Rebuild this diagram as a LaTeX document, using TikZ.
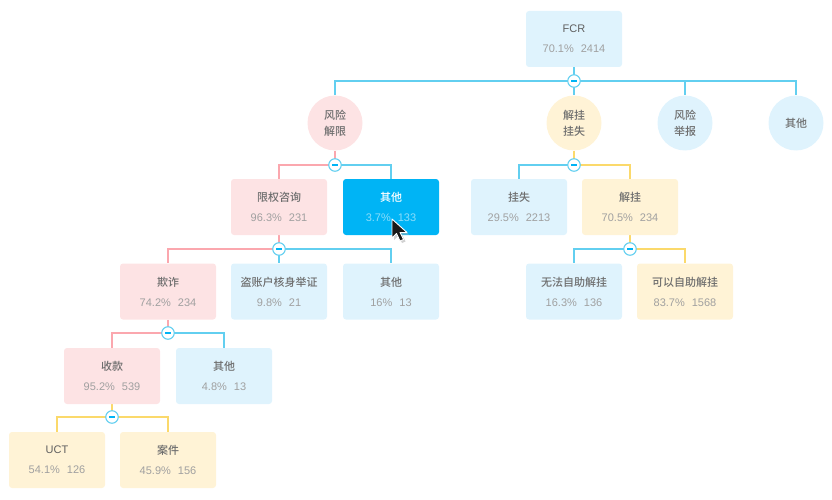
\documentclass[tikz,border=0pt]{standalone}
\usepackage{fontspec}
\setmainfont{Liberation Sans}
\newfontfamily\cjk[UprightFont={* Medium}]{Noto Sans CJK SC}
\usetikzlibrary{backgrounds}
\definecolor{bfill}{HTML}{DFF3FD}
\definecolor{pfill}{HTML}{FDE3E4}
\definecolor{yfill}{HTML}{FFF3D6}
\definecolor{afill}{HTML}{00B4F5}
\definecolor{bline}{HTML}{62CFF0}
\definecolor{pline}{HTML}{FBA7AE}
\definecolor{yline}{HTML}{FBD96B}
\definecolor{ttl}{HTML}{6E6E6E}
\definecolor{val}{HTML}{A0A0A0}
\newcommand{\ttlc}[1]{{\cjk\color{ttl}#1}}
\newcommand{\ttll}[1]{{\color{ttl!110}#1}}
\newcommand{\vals}[2]{{\color{val}#1\hspace{7pt}#2}}
\tikzset{
  x=1pt,y=-1pt,
  card/.style={minimum width=96pt,minimum height=56pt,rounded corners=3pt,inner sep=0pt,align=center,font=\fontsize{11}{20}\selectfont},
  bcard/.style={card,fill=bfill},
  pcard/.style={card,fill=pfill},
  ycard/.style={card,fill=yfill},
  acard/.style={card,fill=afill},
  disc/.style={circle,minimum size=55pt,inner sep=0pt,align=center,text=ttl,font=\cjk\fontsize{11}{16}\selectfont},
  bdisc/.style={disc,fill=bfill},
  pdisc/.style={disc,fill=pfill},
  ydisc/.style={disc,fill=yfill},
  junct/.style={circle,draw=bline,fill=white,line width=1.1pt,minimum size=12.5pt,inner sep=0pt,
    path picture={\draw[afill,line width=1.6pt] (path picture bounding box.center) ++(-3,0) -- ++(6,0);}},
  bl/.style={draw=bline,line width=1.1pt},
  pl/.style={draw=pline,line width=1.1pt},
  yl/.style={draw=yline,line width=1.1pt},
}
\begin{document}
\begin{tikzpicture}
\useasboundingbox (0,0) rectangle (832,500);
% junctions
\node[junct] (j1) at (574,81) {};
\node[junct] (j2) at (335,165) {};
\node[junct] (j3) at (574,165) {};
\node[junct] (j4) at (279,249) {};
\node[junct] (j5) at (630,249) {};
\node[junct] (j6) at (168,333) {};
\node[junct] (j7) at (112,417) {};
% top
\node[bcard] (fcr) at (574,39) {\ttll{FCR}\\\vals{70.1\%}{2414}};
\node[pdisc] (d1) at (335,123) {风险\\解限};
\node[ydisc] (d2) at (574,123) {解挂\\挂失};
\node[bdisc] (d3) at (685,123) {风险\\举报};
\node[bdisc] (d4) at (796,123) {其他};
% level 2
\node[pcard] (a1) at (279,207) {\ttlc{限权咨询}\\\vals{96.3\%}{231}};
\node[acard] (a2) at (391,207) {{\cjk\color{white}其他}\\{\color{white!55!afill}3.7\%\hspace{7pt}133}};
\node[bcard] (a3) at (519,207) {\ttlc{挂失}\\\vals{29.5\%}{2213}};
\node[ycard] (a4) at (630,207) {\ttlc{解挂}\\\vals{70.5\%}{234}};
% level 3
\node[pcard] (b1) at (168,291.5) {\ttlc{欺诈}\\\vals{74.2\%}{234}};
\node[bcard] (b2) at (279,291.5) {\ttlc{盗账户核身举证}\\\vals{9.8\%}{21}};
\node[bcard] (b3) at (391,291.5) {\ttlc{其他}\\\vals{16\%}{13}};
\node[bcard] (b4) at (574,291.5) {\ttlc{无法自助解挂}\\\vals{16.3\%}{136}};
\node[ycard] (b5) at (685,291.5) {\ttlc{可以自助解挂}\\\vals{83.7\%}{1568}};
% level 4
\node[pcard] (c1) at (112,376) {\ttlc{收款}\\\vals{95.2\%}{539}};
\node[bcard] (c2) at (224,376) {\ttlc{其他}\\\vals{4.8\%}{13}};
% level 5
\node[ycard] (e1) at (57,460) {\ttll{UCT}\\\vals{54.1\%}{126}};
\node[ycard] (e2) at (168,460) {\ttlc{案件}\\\vals{45.9\%}{156}};
% cursor
\fill[black!30,opacity=.6] (394,221) -- (394,240) -- (398.5,235.5) -- (402,243) -- (405.5,241.5) -- (402,234.5) -- (409,234.5) -- cycle;
\draw[white,line width=.9pt,fill=black!90,line join=round] (392,219) -- (392,238) -- (396.5,233.5) -- (400,241) -- (403.5,239.5) -- (400,232.5) -- (407,232.5) -- cycle;
% connectors
\begin{scope}[on background layer]
\draw[bl] (fcr.south) -- (j1.center);
\draw[bl] (j1.center) -| (d1.north);
\draw[bl] (j1.center) -- (d2.north);
\draw[bl] (j1.center) -| (d3.north);
\draw[bl] (j1.center) -| (d4.north);
\draw[pl] (d1.south) -- (j2.center);
\draw[pl] (j2.center) -| (a1.north);
\draw[bl] (j2.center) -| (a2.north);
\draw[yl] (d2.south) -- (j3.center);
\draw[bl] (j3.center) -| (a3.north);
\draw[yl] (j3.center) -| (a4.north);
\draw[pl] (a1.south) -- (j4.center);
\draw[pl] (j4.center) -| (b1.north);
\draw[bl] (j4.center) -- (b2.north);
\draw[bl] (j4.center) -| (b3.north);
\draw[yl] (a4.south) -- (j5.center);
\draw[bl] (j5.center) -| (b4.north);
\draw[yl] (j5.center) -| (b5.north);
\draw[pl] (b1.south) -- (j6.center);
\draw[pl] (j6.center) -| (c1.north);
\draw[bl] (j6.center) -| (c2.north);
\draw[yl] (c1.south) -- (j7.center);
\draw[yl] (j7.center) -| (e1.north);
\draw[yl] (j7.center) -| (e2.north);
\end{scope}
\end{tikzpicture}
\end{document}
